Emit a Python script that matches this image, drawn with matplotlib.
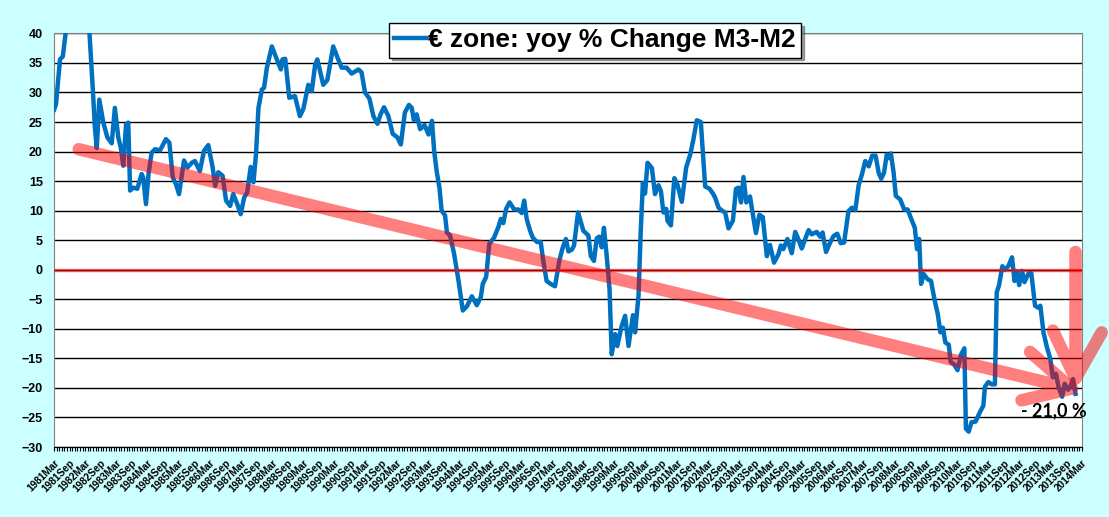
import numpy as np
import matplotlib
matplotlib.use('Agg')
import matplotlib.pyplot as plt
from matplotlib.path import Path
from matplotlib.patches import PathPatch

# dates as decimal years (yoy % change M3-M2)
dates = [1981.17, 1981.23, 1981.36, 1981.45, 1981.55, 1981.70, 1981.90, 1982.10, 1982.30,
         1982.41, 1982.48, 1982.54, 1982.62, 1982.75, 1982.88, 1983.02, 1983.12, 1983.23,
         1983.31, 1983.39, 1983.48, 1983.55, 1983.61, 1983.71, 1983.84, 1983.98, 1984.03,
         1984.12, 1984.20, 1984.30, 1984.41, 1984.57, 1984.76, 1984.87, 1984.98, 1985.08,
         1985.18, 1985.34, 1985.45, 1985.59, 1985.69, 1985.85, 1985.98, 1986.12, 1986.26,
         1986.34, 1986.44, 1986.58, 1986.69, 1986.82, 1986.92, 1987.05, 1987.16, 1987.27,
         1987.37, 1987.48, 1987.57, 1987.65, 1987.73, 1987.84, 1987.91, 1988.00, 1988.16,
         1988.32, 1988.45, 1988.50, 1988.59, 1988.72, 1988.90, 1989.06, 1989.17, 1989.33,
         1989.44, 1989.55, 1989.62, 1989.81, 1989.94, 1990.13, 1990.29, 1990.40, 1990.56,
         1990.72, 1990.94, 1991.04, 1991.15, 1991.29, 1991.42, 1991.55, 1991.65, 1991.76,
         1991.90, 1992.04, 1992.19, 1992.30, 1992.43, 1992.56, 1992.65, 1992.72, 1992.81,
         1992.92, 1993.06, 1993.19, 1993.30, 1993.37, 1993.45, 1993.54, 1993.61, 1993.72,
         1993.78, 1993.88, 1994.01, 1994.15, 1994.29, 1994.42, 1994.58, 1994.74, 1994.87,
         1994.93, 1995.04, 1995.14, 1995.29, 1995.43, 1995.51, 1995.59, 1995.68, 1995.79,
         1995.94, 1996.07, 1996.18, 1996.26, 1996.34, 1996.45, 1996.54, 1996.67, 1996.79,
         1996.87, 1996.98, 1997.11, 1997.25, 1997.39, 1997.50, 1997.60, 1997.68, 1997.79,
         1997.86, 1997.99, 1998.16, 1998.32, 1998.40, 1998.50, 1998.59, 1998.67, 1998.75,
         1998.82, 1998.91, 1999.00, 1999.07, 1999.18, 1999.25, 1999.39, 1999.50, 1999.61,
         1999.75, 1999.82, 1999.93, 2000.00, 2000.07, 2000.14, 2000.22, 2000.36, 2000.46,
         2000.57, 2000.65, 2000.73, 2000.82, 2000.86, 2000.97, 2001.08, 2001.18, 2001.32,
         2001.46, 2001.59, 2001.69, 2001.80, 2001.93, 2002.07, 2002.21, 2002.32, 2002.39,
         2002.50, 2002.61, 2002.71, 2002.82, 2002.96, 2003.06, 2003.14, 2003.22, 2003.30,
         2003.39, 2003.51, 2003.60, 2003.70, 2003.81, 2003.92, 2004.05, 2004.15, 2004.28,
         2004.42, 2004.50, 2004.58, 2004.71, 2004.85, 2004.96, 2005.06, 2005.17, 2005.28,
         2005.39, 2005.49, 2005.65, 2005.76, 2005.84, 2005.95, 2006.08, 2006.19, 2006.31,
         2006.42, 2006.53, 2006.67, 2006.78, 2006.89, 2007.00, 2007.10, 2007.21, 2007.32,
         2007.43, 2007.54, 2007.64, 2007.72, 2007.81, 2007.90, 2007.97, 2008.03, 2008.12,
         2008.19, 2008.33, 2008.46, 2008.57, 2008.67, 2008.80, 2008.87, 2008.94, 2009.00,
         2009.08, 2009.21, 2009.32, 2009.43, 2009.54, 2009.62, 2009.70, 2009.78, 2009.89,
         2009.95, 2010.06, 2010.17, 2010.28, 2010.39, 2010.44, 2010.53, 2010.62, 2010.75,
         2010.89, 2011.00, 2011.05, 2011.16, 2011.27, 2011.37, 2011.43, 2011.50, 2011.61,
         2011.70, 2011.81, 2011.92, 2012.00, 2012.07, 2012.15, 2012.24, 2012.32, 2012.45,
         2012.54, 2012.66, 2012.75, 2012.83, 2012.93, 2013.04, 2013.15, 2013.23, 2013.33,
         2013.42, 2013.53, 2013.61, 2013.72, 2013.80, 2013.88, 2013.96]
values = [27.1, 28.0, 35.6, 36.1, 40.5, 46.0, 50.0, 47.0, 40.5,
          30.8, 24.0, 20.6, 28.8, 24.9, 22.4, 21.4, 27.4, 22.4,
          20.7, 17.6, 24.6, 24.9, 13.4, 13.9, 13.7, 16.2, 15.6,
          11.1, 16.2, 19.8, 20.4, 20.2, 22.1, 21.5, 15.6, 14.5,
          12.8, 18.5, 17.3, 18.1, 18.4, 16.7, 20.1, 21.1, 17.3,
          14.2, 16.5, 15.9, 11.7, 10.8, 12.8, 11.1, 9.4, 12.2,
          13.1, 17.4, 14.8, 19.5, 27.4, 30.5, 30.8, 34.2, 37.8,
          35.6, 33.9, 35.6, 35.7, 29.1, 29.4, 26.0, 27.2, 31.3,
          30.2, 34.7, 35.6, 31.3, 32.1, 37.8, 35.6, 34.2, 34.2,
          33.2, 33.9, 33.4, 30.0, 29.0, 26.0, 24.7, 26.3, 27.5,
          26.0, 23.0, 22.4, 21.2, 26.6, 27.9, 27.4, 25.3, 26.3,
          23.8, 24.5, 22.9, 25.2, 20.1, 16.7, 13.9, 10.0, 9.2,
          6.3, 5.8, 2.7, -1.8, -6.9, -6.2, -4.5, -6.0, -4.6,
          -2.4, -1.2, 4.4, 5.4, 7.2, 8.6, 7.9, 10.3, 11.4,
          10.2, 10.2, 9.6, 11.7, 8.6, 6.6, 5.4, 4.7, 4.7,
          1.6, -1.9, -2.4, -2.8, 1.6, 3.8, 5.2, 3.1, 3.4,
          4.1, 9.7, 6.6, 5.8, 2.3, 1.5, 5.3, 5.6, 3.8,
          7.1, 2.3, -3.3, -14.3, -10.9, -12.9, -9.5, -7.8, -12.9,
          -7.7, -10.6, -4.4, 6.3, 14.7, 12.9, 18.1, 17.2, 12.8,
          14.3, 13.3, 9.7, 10.3, 8.3, 7.5, 15.5, 14.4, 11.5,
          17.3, 19.5, 22.0, 25.3, 25.0, 14.1, 13.7, 12.9, 12.2,
          10.5, 10.0, 9.7, 7.0, 8.3, 13.7, 13.9, 11.4, 15.7,
          11.4, 12.4, 9.4, 6.2, 9.3, 8.9, 2.3, 4.2, 1.2,
          2.6, 4.1, 3.5, 5.2, 2.8, 6.4, 5.2, 3.6, 5.2,
          6.7, 6.0, 6.4, 5.6, 6.3, 3.0, 4.6, 5.7, 6.1,
          4.5, 4.6, 9.9, 10.5, 10.1, 14.4, 16.1, 18.4, 17.5,
          19.3, 19.3, 16.4, 15.4, 16.4, 19.5, 18.9, 19.7, 16.4,
          12.5, 11.9, 10.2, 10.2, 8.8, 7.1, 3.5, 5.2, -2.4,
          -0.7, -1.6, -1.9, -5.0, -7.6, -10.6, -9.8, -12.3, -12.7,
          -15.6, -16.0, -17.0, -14.4, -13.3, -26.9, -27.4, -25.8, -25.7,
          -24.1, -23.0, -19.8, -19.0, -19.4, -19.4, -3.8, -2.7, 0.6,
          0.0, 0.7, 2.1, -1.9, -0.3, -2.6, -0.2, -2.1, -0.6,
          -0.6, -6.1, -6.4, -6.1, -10.6, -13.1, -15.1, -18.2, -17.6,
          -20.0, -21.5, -19.3, -20.3, -19.7, -18.5, -21.0]

label_years = list(range(1981, 2015))
tick_labels = []
for y in label_years:
    tick_labels.append('%dMar' % y)
    if y < 2014:
        tick_labels.append('%dSep' % y)

series_name = '€ zone: yoy % Change M3-M2'
last_text = '- 21,0 %'

# x axis = months since 1981Mar
months = (np.array(dates) - (1981 + 2 / 12)) * 12
n_months = (2014 - 1981) * 12

fig = plt.figure(figsize=(11.09, 5.17), dpi=100, facecolor='#CCFFFF')
ax = fig.add_axes([54 / 1109, 1 - 447 / 517, 1028 / 1109, (447 - 33.4) / 517])
ax.set_facecolor('white')

line, = ax.plot(months, values, color='#0070C0', lw=3.2, solid_joinstyle='round',
                zorder=3, label=series_name)
ax.axhline(0, color='red', lw=2.5, alpha=0.55, zorder=4)

ax.set_xlim(0, n_months)
ax.set_ylim(-30, 40)
ax.set_yticks(np.arange(-30, 41, 5))
ax.grid(axis='y', color='black', lw=1)
ax.set_axisbelow(True)

ax.set_xticks(np.arange(0, n_months + 1, 6))
ax.set_xticks(np.arange(0, n_months + 1), minor=True)
ax.set_xticklabels(tick_labels, rotation=45, ha='right', va='top',
                   rotation_mode='anchor', fontsize=7.3, fontweight='bold',
                   family='Liberation Sans')
ax.tick_params(axis='x', which='both', direction='out', length=3, width=0.8, pad=5)
ax.tick_params(axis='y', length=0, pad=8)
for lab in ax.get_yticklabels():
    lab.set_fontsize(9)
    lab.set_fontweight('bold')
    lab.set_family('Liberation Sans')

for side in ['left', 'top', 'right']:
    ax.spines[side].set_color('#808080')
ax.spines['bottom'].set_color('black')

# trend arrows (month, value)
def arrow(shaft_start, tip, barb1, barb2):
    verts = [shaft_start, tip, barb1, tip, barb2]
    codes = [Path.MOVETO, Path.LINETO, Path.LINETO, Path.MOVETO, Path.LINETO]
    p = PathPatch(Path(verts, codes), fill=False, edgecolor='red', alpha=0.5,
                  lw=9, capstyle='round', joinstyle='round',
                  transform=ax.transData, clip_on=False, zorder=5)
    ax.add_patch(p)

arrow((9.5, 20.4), (392, -20.1), (376, -13.9), (372.7, -22.1))
arrow((393.5, 3.0), (393.5, -18.4), (384.8, -10.3), (403.6, -10.6))

ax.text(385.2, -23.9, last_text, ha='center', va='center', fontsize=13,
        family='Lato', fontweight='bold', color='black', zorder=6)

leg = ax.legend(handles=[line], loc='upper center', bbox_to_anchor=(595 / 1109, 1 - 23 / 517),
                bbox_transform=fig.transFigure, frameon=True, fancybox=False, shadow=True,
                framealpha=1, edgecolor='black', handlelength=1.2, handletextpad=0.1,
                borderpad=0.2, borderaxespad=0,
                prop={'family': 'Liberation Sans', 'weight': 'bold', 'size': 19})
leg.get_frame().set_linewidth(1)

fig.savefig('out.png', dpi=100, facecolor=fig.get_facecolor())
